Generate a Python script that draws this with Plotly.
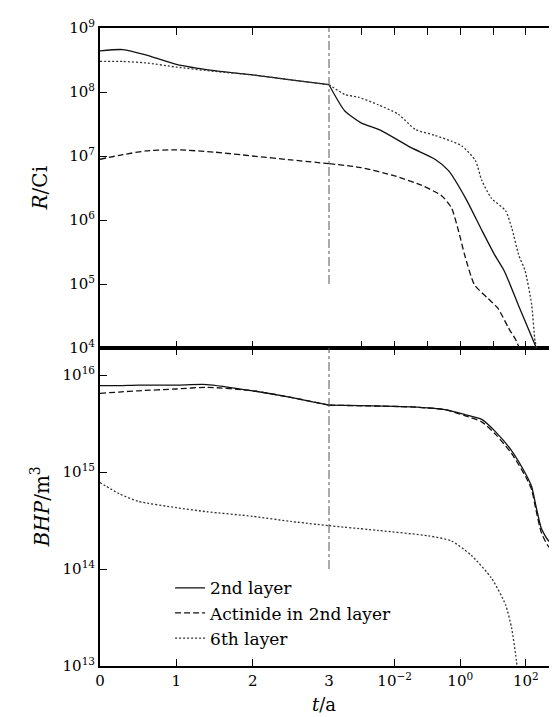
import plotly.graph_objects as go

# ---------------- data ----------------
# operation period (linear, years)
T_OP = [0, 0.3, 0.6, 1.0, 1.5, 2.0, 2.5, 3.0]
R_2ND_OP = [4.4e8, 4.6e8, 3.8e8, 2.7e8, 2.15e8, 1.85e8, 1.55e8, 1.3e8]
R_6TH_OP = [3.0e8, 3.0e8, 2.85e8, 2.45e8, 2.1e8, 1.85e8, 1.55e8, 1.3e8]
R_ACT_OP = [8.9e6, 1.05e7, 1.2e7, 1.25e7, 1.15e7, 1.0e7, 8.7e6, 7.6e6]

# cooling period (log, years)
TAU_R_2ND = [1e-4, 3.0e-4, 9.5e-4, 3.9e-3, 0.032, 0.17, 0.44, 1.45, 4.5, 11, 22, 58, 210]
R_2ND_COOL = [1.3e8, 5.1e7, 3.3e7, 2.5e7, 1.35e7, 8.9e6, 5.9e6, 2.2e6, 7.0e5, 2.9e5, 1.6e5, 4.8e4, 1e4]
TAU_R_6TH = [1e-4, 3.1e-4, 7.8e-4, 3.2e-3, 0.013, 0.043, 0.17, 0.54, 1.1, 2.9, 4.5, 8.9, 24, 37, 60, 95, 150, 190, 215]
R_6TH_COOL = [1.3e8, 9.1e7, 8.3e7, 6.3e7, 4.5e7, 2.6e7, 2.1e7, 1.7e7, 1.45e7, 8.5e6, 4.2e6, 2.2e6,
              1.4e6, 7.6e5, 2.9e5, 1.6e5, 4.8e4, 1.3e4, 1e4]
TAU_R_ACT = [1e-4, 9.5e-4, 0.01, 0.065, 0.27, 0.54, 0.95, 1.35, 2.7, 6.9, 14, 29, 51, 63]
R_ACT_COOL = [7.6e6, 6.6e6, 4.9e6, 3.5e6, 2.4e6, 1.55e6, 5.9e5, 2.9e5, 9.8e4, 6.0e4, 4.2e4, 2.1e4, 1.3e4, 1e4]

T_OP_B = [0, 0.25, 0.5, 1.0, 1.4, 2.0, 2.5, 3.0]
BHP_2ND_OP = [7.8e15, 7.8e15, 7.9e15, 7.9e15, 8.0e15, 6.9e15, 5.9e15, 4.9e15]
BHP_ACT_OP = [6.5e15, 6.7e15, 6.9e15, 7.2e15, 7.5e15, 6.9e15, 5.9e15, 4.9e15]
BHP_6TH_OP = [7.8e14, 6.0e14, 5.0e14, 4.3e14, 3.9e14, 3.5e14, 3.1e14, 2.8e14]

TAU_B = [1e-4, 0.032, 0.35, 1.45, 4.5, 12, 37, 100, 150, 200, 300, 500, 950]
BHP_2ND_COOL = [4.9e15, 4.7e15, 4.4e15, 3.9e15, 3.5e15, 2.6e15, 1.66e15, 9.5e14, 7.1e14, 4.6e14, 2.6e14, 1.95e14, 1.78e14]
BHP_ACT_COOL = [4.9e15, 4.7e15, 4.4e15, 3.8e15, 3.3e15, 2.45e15, 1.55e15, 8.9e14, 6.6e14, 4.2e14, 2.35e14, 1.7e14, 1.5e14]
TAU_B_6TH = [1e-4, 0.0032, 0.107, 0.54, 2.2, 8.9, 24, 37, 49, 54]
BHP_6TH_COOL = [2.8e14, 2.5e14, 2.2e14, 1.95e14, 1.38e14, 8.1e13, 4.3e13, 2.45e13, 1.3e13, 1e13]

X_TICKS_LIN = [0, 1, 2, 3]
X_MINOR_LIN = [0.25, 0.5, 0.75, 1.25, 1.5, 1.75, 2.25, 2.5, 2.75]
X_DECADES = list(range(-4, 3))
X_LABELED_DECADES = [-2, 0, 2]
R_DECADES = list(range(4, 10))
B_DECADES = list(range(13, 17))

SERIES = ["2nd layer", "Actinide in 2nd layer", "6th layer"]

# ---------------- styling ----------------
FONT = "DejaVu Serif"
STY = {
    "2nd layer": dict(color="#111111", width=1.3, dash="solid"),
    "Actinide in 2nd layer": dict(color="#111111", width=1.3, dash="6px,3px"),
    "6th layer": dict(color="#333333", width=1.3, dash="2px,2px"),
}


def major(decs):
    return [10.0 ** d for d in decs]


def minors(decs):
    return [m * 10.0 ** d for d in decs for m in range(2, 10)]


def pow_text(decs):
    return ["10<sup>%s</sup>" % (str(d).replace("-", "\u2212")) for d in decs]


fig = go.Figure()


def add(x, y, name, xa, ya, show):
    fig.add_trace(go.Scatter(
        x=x, y=y, mode="lines", name=name, legendgroup=name, showlegend=show,
        line=dict(shape="spline", smoothing=0.6, **STY[name]),
        xaxis=xa, yaxis=ya))


add(T_OP_B, BHP_2ND_OP, SERIES[0], "x", "y", True)
add(T_OP_B, BHP_ACT_OP, SERIES[1], "x", "y", True)
add(T_OP_B, BHP_6TH_OP, SERIES[2], "x", "y", True)
add(TAU_B, BHP_2ND_COOL, SERIES[0], "x2", "y3", False)
add(TAU_B, BHP_ACT_COOL, SERIES[1], "x2", "y3", False)
add(TAU_B_6TH, BHP_6TH_COOL, SERIES[2], "x2", "y3", False)
add(T_OP, R_2ND_OP, SERIES[0], "x3", "y2", False)
add(T_OP, R_ACT_OP, SERIES[1], "x3", "y2", False)
add(T_OP, R_6TH_OP, SERIES[2], "x3", "y2", False)
add(TAU_R_2ND, R_2ND_COOL, SERIES[0], "x4", "y4", False)
add(TAU_R_ACT, R_ACT_COOL, SERIES[1], "x4", "y4", False)
add(TAU_R_6TH, R_6TH_COOL, SERIES[2], "x4", "y4", False)

SPLIT_Y = 0.4984
X_RANGE_LOG = [-4, 2.98]
R_RANGE = [4, 9]
B_RANGE = [13, 16.28]

common = dict(showline=True, linewidth=2, linecolor="black", ticks="inside",
              tickcolor="black", ticklen=7, showgrid=False, zeroline=False,
              tickmode="array", tickfont=dict(family=FONT, size=15, color="black"))

# overlay axes carrying only the short minor ticks
minor_common = dict(showline=False, ticks="inside", tickcolor="black", ticklen=3,
                    showgrid=False, zeroline=False, showticklabels=False, tickmode="array")

x_log_other = [10.0 ** d for d in X_DECADES if d not in X_LABELED_DECADES]

fig.update_layout(
    template="none",
    width=557, height=717,
    margin=dict(l=92, r=7, t=20, b=59),
    font=dict(family=FONT, color="black"),
    hovermode=False,
    xaxis=dict(domain=[0, 0.5], range=[0, 3], anchor="y", tickvals=X_TICKS_LIN,
               mirror="allticks", **common),
    xaxis2=dict(type="log", domain=[0.5, 1], range=X_RANGE_LOG, anchor="y3",
                tickvals=major(X_LABELED_DECADES), ticktext=pow_text(X_LABELED_DECADES),
                mirror="allticks", **common),
    xaxis3=dict(domain=[0, 0.5], range=[0, 3], anchor="y2", tickvals=X_TICKS_LIN,
                showticklabels=False, mirror="allticks", **common),
    xaxis4=dict(type="log", domain=[0.5, 1], range=X_RANGE_LOG, anchor="y4",
                tickvals=major(X_DECADES), showticklabels=False, mirror="allticks", **common),
    yaxis=dict(type="log", domain=[0, SPLIT_Y], range=B_RANGE, anchor="x",
               tickvals=major(B_DECADES), ticktext=pow_text(B_DECADES), **common),
    yaxis2=dict(type="log", domain=[SPLIT_Y, 1], range=R_RANGE, anchor="x3",
                tickvals=major(R_DECADES), ticktext=pow_text(R_DECADES), **common),
    yaxis3=dict(type="log", domain=[0, SPLIT_Y], range=B_RANGE, anchor="x2", side="right",
                tickvals=major(B_DECADES), showticklabels=False, **common),
    yaxis4=dict(type="log", domain=[SPLIT_Y, 1], range=R_RANGE, anchor="x4", side="right",
                tickvals=major(R_DECADES), showticklabels=False, **common),
    xaxis5=dict(overlaying="x", domain=[0, 0.5], range=[0, 3], anchor="y", side="bottom",
                tickvals=X_MINOR_LIN, mirror="ticks", **minor_common),
    xaxis6=dict(overlaying="x2", type="log", domain=[0.5, 1], range=X_RANGE_LOG, anchor="y3",
                side="bottom", tickvals=minors(X_DECADES) + x_log_other, mirror="ticks", **minor_common),
    xaxis7=dict(overlaying="x3", domain=[0, 0.5], range=[0, 3], anchor="y2", side="bottom",
                tickvals=X_MINOR_LIN, mirror="ticks", **minor_common),
    xaxis8=dict(overlaying="x4", type="log", domain=[0.5, 1], range=X_RANGE_LOG, anchor="y4",
                side="bottom", tickvals=minors(X_DECADES), mirror="ticks", **minor_common),
    yaxis5=dict(overlaying="y", type="log", domain=[0, SPLIT_Y], range=B_RANGE, anchor="x",
                side="left", tickvals=minors(B_DECADES), **minor_common),
    yaxis6=dict(overlaying="y2", type="log", domain=[SPLIT_Y, 1], range=R_RANGE, anchor="x3",
                side="left", tickvals=minors(R_DECADES), **minor_common),
    yaxis7=dict(overlaying="y3", type="log", domain=[0, SPLIT_Y], range=B_RANGE, anchor="x2",
                side="right", tickvals=minors(B_DECADES), **minor_common),
    yaxis8=dict(overlaying="y4", type="log", domain=[SPLIT_Y, 1], range=R_RANGE, anchor="x4",
                side="right", tickvals=minors(R_DECADES), **minor_common),
    legend=dict(x=0.153, y=0.15, xanchor="left", yanchor="top", bgcolor="rgba(0,0,0,0)",
                font=dict(family=FONT, size=17, color="black"), itemwidth=30, tracegroupgap=0),
    showlegend=True,
)

# boundary between operation and cooling
BOUNDARY_LINES = [("y2", 1e5, 1e9), ("y", 1e14, 10 ** B_RANGE[1])]
for yref, y0, y1 in BOUNDARY_LINES:
    fig.add_shape(type="line", xref="paper", x0=0.5, x1=0.5, yref=yref, y0=y0, y1=y1,
                  line=dict(color="#555555", width=1, dash="dashdot"))

fig.add_annotation(text="<i>R</i>/Ci", xref="paper", yref="paper", x=-0.13, y=(SPLIT_Y + 1) / 2,
                   xanchor="center", yanchor="middle", textangle=-90, showarrow=False,
                   font=dict(family=FONT, size=20, color="black"))
fig.add_annotation(text="<i>BHP</i>/m<sup>3</sup>", xref="paper", yref="paper", x=-0.13, y=SPLIT_Y / 2,
                   xanchor="center", yanchor="middle", textangle=-90, showarrow=False,
                   font=dict(family=FONT, size=20, color="black"))
fig.add_annotation(text="<i>t</i>/a", xref="paper", yref="paper", x=0.49, y=-0.06,
                   xanchor="center", yanchor="middle", showarrow=False,
                   font=dict(family=FONT, size=18, color="black"))

fig.write_html("out.html")
